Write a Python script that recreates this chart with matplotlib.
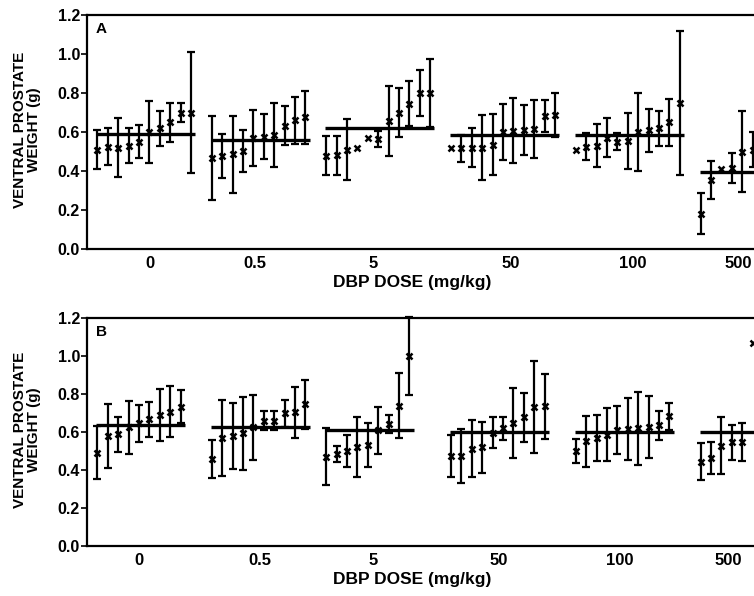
import matplotlib.pyplot as plt

plt.rcParams['font.family'] = ['Liberation Sans', 'DejaVu Sans']
plt.rcParams['font.weight'] = 'bold'

# dose groups (x tick labels) and where each group of points starts
doses = ['0', '0.5', '5', '50', '100', '500']
group_start = [1, 12, 23, 35, 47, 59]

# panel A: point means, symmetric error half-widths, group mean lines
a_means = [
    [0.51, 0.525, 0.52, 0.53, 0.55, 0.60, 0.62, 0.65, 0.70, 0.70],
    [0.467, 0.477, 0.485, 0.503, 0.57, 0.576, 0.584, 0.632, 0.66, 0.676],
    [0.478, 0.482, 0.51, 0.52, 0.567, 0.563, 0.655, 0.70, 0.745, 0.80, 0.80],
    [0.516, 0.516, 0.52, 0.52, 0.535, 0.60, 0.607, 0.61, 0.615, 0.68, 0.685],
    [0.508, 0.525, 0.53, 0.57, 0.55, 0.555, 0.60, 0.61, 0.62, 0.65, 0.75],
    [0.18, 0.355, 0.409, 0.415, 0.50, 0.51],
]
a_errs = [
    [0.10, 0.095, 0.15, 0.09, 0.085, 0.16, 0.09, 0.10, 0.05, 0.31],
    [0.215, 0.113, 0.198, 0.108, 0.144, 0.116, 0.164, 0.10, 0.12, 0.136],
    [0.10, 0.10, 0.155, 0, 0, 0.04, 0.18, 0.125, 0.115, 0.12, 0.173],
    [0, 0.07, 0.10, 0.167, 0.157, 0.142, 0.167, 0.128, 0.15, 0.082, 0.113],
    [0, 0.068, 0.11, 0.10, 0.043, 0.145, 0.20, 0.11, 0.09, 0.12, 0.37],
    [0.105, 0.097, 0, 0.075, 0.21, 0.09],
]
a_group_mean = [0.59, 0.56, 0.62, 0.585, 0.585, 0.396]
a_tick_pos = [6.06, 16.15, 27.5, 40.7, 52.5, 62.6]

# panel B
b_means = [
    [0.49, 0.578, 0.588, 0.625, 0.646, 0.668, 0.69, 0.707, 0.733],
    [0.458, 0.568, 0.578, 0.593, 0.625, 0.658, 0.658, 0.698, 0.703, 0.746],
    [0.47, 0.485, 0.50, 0.523, 0.53, 0.608, 0.641, 0.738, 1.0],
    [0.475, 0.474, 0.512, 0.52, 0.596, 0.619, 0.646, 0.677, 0.731, 0.735],
    [0.50, 0.55, 0.567, 0.585, 0.61, 0.615, 0.619, 0.626, 0.635, 0.682],
    [0.443, 0.464, 0.528, 0.545, 0.545, 1.067],
]
b_errs = [
    [0.14, 0.168, 0.092, 0.14, 0.097, 0.092, 0.135, 0.135, 0.088],
    [0.10, 0.20, 0.173, 0.193, 0.17, 0.05, 0.05, 0.07, 0.136, 0.128],
    [0.15, 0.041, 0.085, 0.158, 0.116, 0.125, 0.048, 0.171, 0.205],
    [0.11, 0.14, 0.151, 0.134, 0.082, 0.061, 0.185, 0.128, 0.243, 0.17],
    [0.061, 0.134, 0.122, 0.14, 0.127, 0.162, 0.193, 0.165, 0.077, 0.072],
    [0.097, 0.085, 0.149, 0.092, 0.10, 0],
]
b_group_mean = [0.637, 0.625, 0.61, 0.60, 0.60, 0.60]
b_tick_pos = [5.03, 16.6, 27.5, 39.6, 51.25, 61.7]

yticks = [0.0, 0.2, 0.4, 0.6, 0.8, 1.0, 1.2]

fig = plt.figure(figsize=(7.54, 5.96), dpi=100)
ax_a = fig.add_axes([0.1154, 0.5822, 0.9456, 0.3926])
ax_b = fig.add_axes([0.1154, 0.0839, 0.9456, 0.3826])


def draw_panel(ax, means, errs, group_mean, tick_pos, letter, label_y):
    for start, m, e, gm in zip(group_start, means, errs, group_mean):
        xs = [start + i for i in range(len(m))]
        bx = [x for x, err in zip(xs, e) if err > 0]
        by = [y for y, err in zip(m, e) if err > 0]
        be = [err for err in e if err > 0]
        ax.errorbar(bx, by, yerr=be, fmt='none', ecolor='black',
                    elinewidth=1.6, capsize=3, capthick=1.6, clip_on=False)
        ax.plot(xs, m, 'x', color='black', markersize=5, mew=1.8, clip_on=False)
        ax.hlines(gm, xs[0] - 0.1, xs[-1] + 0.4, color='black', lw=2.4)
    ax.set_xlim(0, 68.56)
    ax.set_ylim(0, 1.2)
    ax.set_yticks(yticks)
    ax.set_yticklabels(['%.1f' % t for t in yticks], fontsize=11.5, fontweight='bold')
    ax.set_xticks(tick_pos)
    ax.set_xticklabels(doses, fontsize=12, fontweight='bold')
    ax.tick_params(axis='x', length=0, pad=5)
    ax.tick_params(axis='y', direction='out', length=4, width=1.2, pad=1)
    for s in ax.spines.values():
        s.set_linewidth(1.6)
    ax.set_xlabel('DBP DOSE (mg/kg)', fontsize=12.5, fontweight='bold')
    ax.xaxis.set_label_coords(0.456, label_y)
    ax.text(0.012, 0.97, letter, transform=ax.transAxes, fontsize=11,
            fontweight='bold', va='top', ha='left')


draw_panel(ax_a, a_means, a_errs, a_group_mean, a_tick_pos, 'A', -0.111)
draw_panel(ax_b, b_means, b_errs, b_group_mean, b_tick_pos, 'B', -0.114)

fig.text(27 / 754, 1 - 130 / 596, 'VENTRAL PROSTATE\nWEIGHT (g)', rotation=90,
         ha='center', va='center', fontsize=11, fontweight='bold', linespacing=1.0)
fig.text(27 / 754, 1 - 430 / 596, 'VENTRAL PROSTATE\nWEIGHT (g)', rotation=90,
         ha='center', va='center', fontsize=11, fontweight='bold', linespacing=1.0)

plt.savefig('out.png', dpi=100)
